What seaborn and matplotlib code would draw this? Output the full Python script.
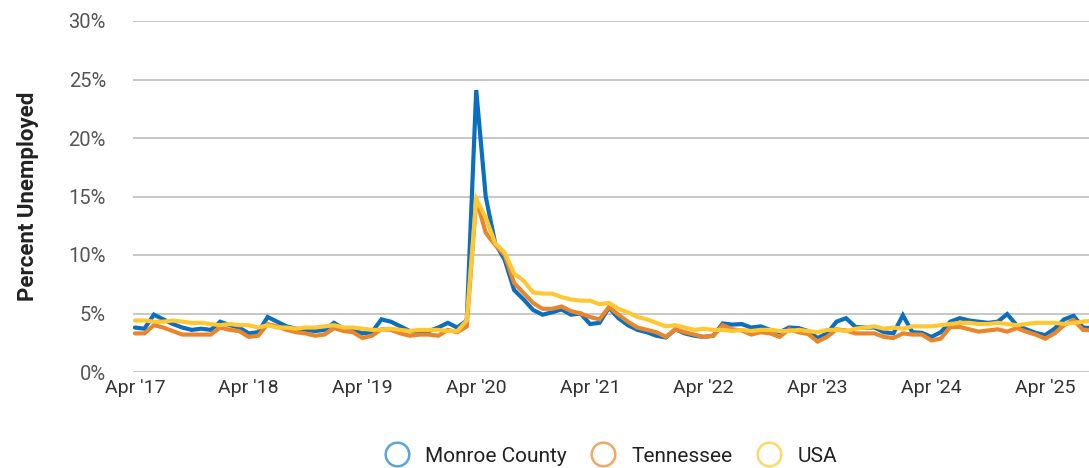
import numpy as np
import pandas as pd
import matplotlib
matplotlib.use("Agg")
import matplotlib.pyplot as plt
from matplotlib.lines import Line2D
import seaborn as sns

# Monthly series, Apr 2017 .. Sep 2025
months = pd.date_range("2017-04-01", "2025-09-01", freq="MS")

monroe = [
    3.8, 3.7, 4.9, 4.5, 4.1, 3.8, 3.6, 3.7, 3.6,
    4.3, 4.0, 3.8, 3.3, 3.4, 4.7, 4.3, 3.9, 3.7, 3.6, 3.5, 3.6,
    4.2, 3.7, 3.6, 3.3, 3.4, 4.5, 4.3, 3.9, 3.5, 3.4, 3.5, 3.8,
    4.2, 3.8, 4.4, 24.1, 15.0, 11.0, 9.6, 7.0, 6.2, 5.3, 4.9, 5.1,
    5.35, 4.9, 5.0, 4.1, 4.2, 5.5, 4.6, 4.0, 3.6, 3.4, 3.1, 2.95,
    3.65, 3.3, 3.1, 3.0, 3.1, 4.15, 4.05, 4.1, 3.8, 3.9, 3.6, 3.4,
    3.8, 3.75, 3.5, 2.9, 3.3, 4.3, 4.6, 3.85, 3.8, 3.8, 3.4, 3.3,
    4.85, 3.4, 3.35, 3.0, 3.4, 4.3, 4.6, 4.4, 4.3, 4.2, 4.3, 4.95,
    4.0, 3.65, 3.35, 3.15, 3.7, 4.5, 4.8, 3.8, 3.75,
]
tennessee = [
    3.3, 3.3, 4.0, 3.8, 3.5, 3.2, 3.2, 3.2, 3.2,
    3.8, 3.6, 3.5, 3.0, 3.1, 4.1, 3.9, 3.6, 3.4, 3.3, 3.1, 3.2,
    3.75, 3.5, 3.4, 2.9, 3.1, 3.65, 3.6, 3.3, 3.1, 3.2, 3.2, 3.1,
    3.6, 3.4, 3.9, 14.8, 11.9, 10.85, 10.0, 7.6, 6.75, 5.9, 5.4, 5.4,
    5.6, 5.2, 5.0, 4.7, 4.5, 5.55, 4.9, 4.3, 3.8, 3.6, 3.4, 3.0,
    3.65, 3.4, 3.2, 3.0, 3.1, 4.0, 3.65, 3.55, 3.2, 3.4, 3.3, 3.0,
    3.65, 3.4, 3.25, 2.6, 3.0, 3.65, 3.55, 3.3, 3.3, 3.3, 3.0, 2.9,
    3.3, 3.2, 3.2, 2.7, 2.85, 3.85, 3.85, 3.65, 3.45, 3.55, 3.65, 3.45,
    3.75, 3.45, 3.2, 2.85, 3.3, 4.0, 4.45, 3.6, 3.55,
]
usa = [
    4.4, 4.4, 4.3, 4.3, 4.4, 4.3, 4.2, 4.2, 4.1,
    4.0, 4.1, 4.0, 4.0, 3.8, 4.0, 3.8, 3.8, 3.7, 3.8, 3.8, 3.9,
    4.0, 3.8, 3.8, 3.7, 3.6, 3.6, 3.7, 3.6, 3.5, 3.6, 3.6, 3.6,
    3.5, 3.5, 4.4, 14.8, 13.2, 11.0, 10.2, 8.4, 7.8, 6.8, 6.7, 6.7,
    6.4, 6.2, 6.1, 6.1, 5.8, 5.9, 5.4, 5.1, 4.7, 4.5, 4.2, 3.9,
    4.0, 3.8, 3.6, 3.7, 3.6, 3.6, 3.5, 3.6, 3.5, 3.6, 3.6, 3.5,
    3.5, 3.6, 3.5, 3.4, 3.6, 3.6, 3.5, 3.7, 3.8, 3.9, 3.7, 3.8,
    3.7, 3.9, 3.9, 3.9, 4.0, 4.1, 4.2, 4.2, 4.1, 4.1, 4.2, 4.1,
    4.0, 4.1, 4.2, 4.2, 4.2, 4.1, 4.2, 4.3, 4.4,
]
series_names = ["Monroe County", "Tennessee", "USA"]
tick_labels = ["Apr '17", "Apr '18", "Apr '19", "Apr '20", "Apr '21",
               "Apr '22", "Apr '23", "Apr '24", "Apr '25"]
y_ticks = [0, 5, 10, 15, 20, 25, 30]

colors = ["#0B6FBF", "#E9862B", "#FFC832"]
legend_edge = ["#5BA3DB", "#F0A862", "#FFD966"]

idx = np.arange(len(months))
df = pd.concat([
    pd.DataFrame({"i": idx, "value": vals, "series": name})
    for name, vals in zip(series_names, [monroe, tennessee, usa])
])

sns.set_theme(style="white")
plt.rcParams["font.family"] = ["Roboto", "DejaVu Sans"]

fig = plt.figure(figsize=(10.89, 4.68), dpi=100)
ax = fig.add_axes([133 / 1089, 1 - 372 / 468, 1 - 133 / 1089, (372 - 21) / 468])

sns.lineplot(data=df, x="i", y="value", hue="series", hue_order=series_names,
             palette=colors, linewidth=3.0, ax=ax, legend=False,
             estimator=None, sort=False)
for ln in ax.lines:
    ln.set_solid_joinstyle("miter")

ax.set_ylim(0, 30)
ax.set_xlim(-0.2, 100.63)
ax.set_yticks(y_ticks)
ax.set_yticklabels([f"{t}%" for t in y_ticks], color="#555555", fontsize=14.5)
ax.set_xticks(np.arange(0, 97, 12))
ax.set_xticklabels(tick_labels, color="#333333", fontsize=14)
ax.tick_params(axis="y", length=0, pad=19.5)
ax.tick_params(axis="x", length=0, pad=5)
ax.grid(axis="y", color="#BDBDBD", linewidth=1.2)
ax.grid(axis="x", visible=False)
ax.set_axisbelow(True)
for s in ax.spines.values():
    s.set_visible(False)
ax.set_xlabel("")
ax.set_ylabel("Percent Unemployed", fontsize=16, fontweight="bold",
              color="#222222", labelpad=21)

handles = [Line2D([], [], linestyle="none", marker="o", markersize=17,
                  markerfacecolor="none", markeredgecolor=c, markeredgewidth=1.8)
           for c in legend_edge]
fig.legend(handles, series_names, loc="center", bbox_to_anchor=(0.557, 1 - 456 / 468),
           ncol=3, frameon=False, fontsize=15, handletextpad=0.35,
           columnspacing=0.75, labelcolor="#222222")

fig.savefig("out.png", dpi=100)
